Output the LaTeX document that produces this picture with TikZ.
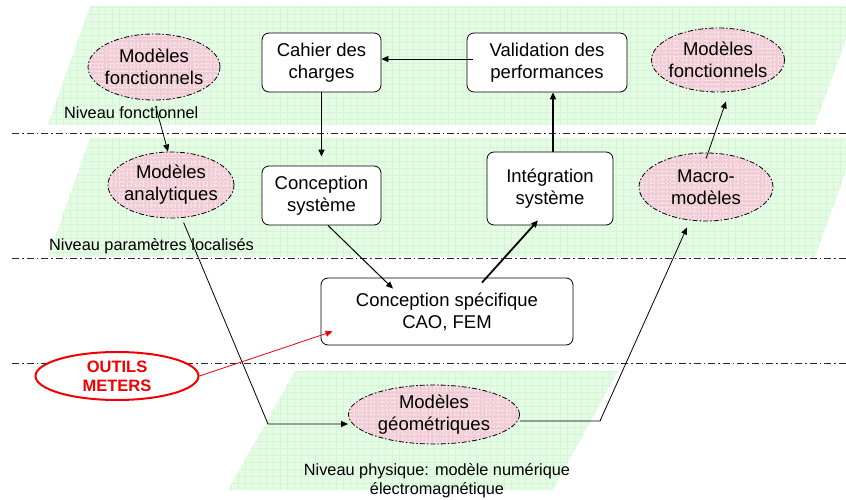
\documentclass[tikz,border=0pt]{standalone}
\usepackage{fontspec}
\setmainfont{Liberation Sans}
\usetikzlibrary{shapes.geometric,arrows.meta,calc}

\definecolor{bandgreen}{RGB}{228,251,228}
\definecolor{bandgrid}{RGB}{214,244,214}
\definecolor{blobpink}{RGB}{240,204,214}
\definecolor{blobgrid}{RGB}{249,226,232}
\definecolor{toolred}{RGB}{240,0,0}
\definecolor{levelgray}{RGB}{40,40,40}

\newcommand\dgmfont{\fontsize{18.5}{22}\selectfont}
\newcommand\lvlfont{\fontsize{16.3}{19}\selectfont}
\newcommand\toolfont{\fontsize{16.5}{19}\selectfont\bfseries}

\begin{document}
\begin{tikzpicture}[x=1pt,y=-1pt,
  band/.style={fill=bandgreen,
    path picture={\draw[bandgrid, line width=0.4pt, step=7pt]
      (path picture bounding box.south west) grid (path picture bounding box.north east);}},
  levelline/.style={levelgray, line width=0.9pt, dash pattern=on 7pt off 3pt on 1.5pt off 3pt},
  box/.style={draw, rounded corners=7pt, fill=white, align=center, inner sep=0pt,
    line width=0.8pt, font=\dgmfont},
  blob/.style={ellipse, draw, line width=0.8pt, inner sep=0pt,
    dash pattern=on 5pt off 2pt on 1.5pt off 2pt, fill=blobpink,
    path picture={\draw[blobgrid, line width=0.4pt, step=4pt]
      (path picture bounding box.south west) grid (path picture bounding box.north east);}},
  blobtext/.style={align=center, font=\dgmfont, inner sep=0pt},
  lvl/.style={font=\lvlfont, inner sep=0pt},
  arr/.style={-{Triangle[length=7pt,width=6pt]}, line width=0.8pt},
]
\useasboundingbox (0,0) rectangle (846,500);
\clip (0,0) rectangle (846,500);

% level bands
\path[band] (90,6) -- (858,6) -- (815,125) -- (48,125) -- cycle;
\path[band] (90,138) -- (858,138) -- (815,257) -- (48,257) -- cycle;
\path[band] (295,371) -- (618,371) -- (553,490) -- (228,490) -- cycle;

% level separators
\foreach \yy in {133,258,363}
  \draw[levelline] (12,\yy) -- (846,\yy);

% level names
\node[lvl, anchor=west] (lfonc) at (64,113) {Niveau fonctionnel};
\node[lvl, anchor=west] (lparam) at (49,246) {Niveau paramètres localisés};
\node[lvl, align=center] (lphys) at (437,481) {Niveau physique: modèle numérique\\électromagnétique};

% design steps
\node[box, minimum width=119pt, minimum height=59pt] (cahier) at (321.5,62.5) {Cahier des\\charges};
\node[box, minimum width=160pt, minimum height=59pt] (valid) at (547,62.5) {Validation des\\performances};
\node[box, minimum width=119pt, minimum height=59pt] (csys) at (321.5,195.5) {Conception\\système};
\node[box, minimum width=126pt, minimum height=73pt] (integ) at (550,188.5) {Intégration\\système};
\node[box, minimum width=252pt, minimum height=67pt] (spec) at (447,311.5) {Conception spécifique\\CAO, FEM};

% models
\node[blob, minimum width=132pt, minimum height=66pt,
  label={[blobtext]center:Modèles\\fonctionnels}] (mfl) at (154,67) {};
\node[blob, minimum width=126pt, minimum height=66pt,
  label={[blobtext]center:Modèles\\analytiques}] (ana) at (171,185) {};
\node[blob, minimum width=133pt, minimum height=64pt,
  label={[blobtext]center:Modèles\\fonctionnels}] (mfr) at (718,60) {};
\node[blob, minimum width=134pt, minimum height=68pt,
  label={[blobtext]center:Macro-\\modèles}] (macro) at (706,187) {};
\node[blob, minimum width=171pt, minimum height=59pt,
  label={[blobtext]center:Modèles\\géométriques}] (geo) at (434,414.5) {};

% tools
\node[ellipse, draw=toolred, line width=2pt, fill=white, inner sep=0pt,
  minimum width=163pt, minimum height=48pt,
  label={[align=center, font=\toolfont, text=toolred, inner sep=0pt]center:OUTILS\\METERS}] (outils) at (117,376) {};

% design flow
\draw[arr, line width=1.3pt] (cahier.south) -- ([yshift=9pt]csys.north);
\draw[arr, line width=1pt] ([xshift=6.5pt]csys.south) -- ([xshift=-54pt,yshift=-11pt]spec.north);
\draw[arr, line width=1.8pt] ([xshift=35pt,yshift=-5pt]spec.north) -- ([xshift=-12pt,yshift=5pt]integ.south);
\draw[arr, line width=1.8pt] ([xshift=3pt]integ.north) -- ([xshift=3pt]integ.north |- valid.south);
\draw[arr] ([xshift=6pt,yshift=3.5pt]valid.west) -- ([yshift=3.5pt]cahier.east);

% model flow
\coordinate (anacorner) at (268,424);
\coordinate (geocorner) at (600,421);
\draw[arr, shorten <=6pt] (mfl.south) -- ([xshift=-3pt]ana.north);
\draw[arr, shorten <=5pt] (ana.-72) -- (anacorner) -- (geo.west |- anacorner);
\draw[arr] (geo.east |- geocorner) -- (geocorner) -- ([xshift=-19pt,yshift=-6pt]macro.south);
\draw[arr] ([yshift=-6pt]macro.north) -- ([xshift=8pt,yshift=-9pt]mfr.south);

% tool link
\draw[arr, toolred] (outils.east) -- ([xshift=12pt,yshift=14pt]spec.south west);
\end{tikzpicture}
\end{document}
